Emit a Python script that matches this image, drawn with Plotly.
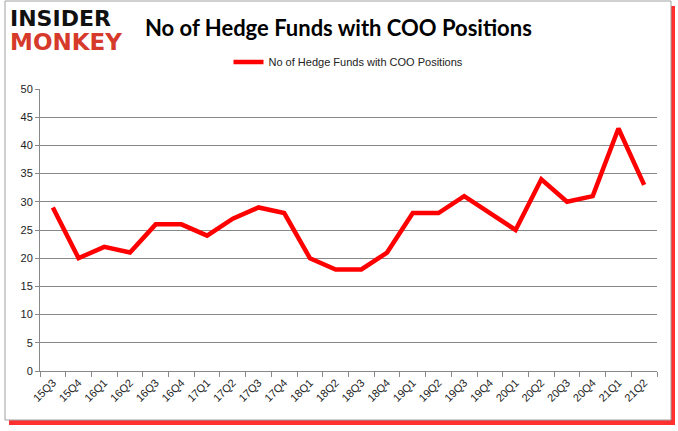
import plotly.graph_objects as go

quarters = ["15Q3","15Q4","16Q1","16Q2","16Q3","16Q4","17Q1","17Q2","17Q3","17Q4",
            "18Q1","18Q2","18Q3","18Q4","19Q1","19Q2","19Q3","19Q4","20Q1","20Q2",
            "20Q3","20Q4","21Q1","21Q2"]
funds = [29,20,22,21,26,26,24,27,29,28,20,18,18,21,28,28,31,28,25,34,30,31,43,33]
y_ticks = [0,5,10,15,20,25,30,35,40,45,50]

W, H = 678, 431
L, R, T, B = 40, 21, 89, 60
pw, ph = W - L - R, H - T - B

def px(x):
    return (x - L) / pw

def py(y):
    return (H - B - y) / ph

fig = go.Figure()
fig.add_trace(go.Scatter(
    x=quarters, y=funds, mode="lines",
    name="No of Hedge Funds with COO Positions",
    line=dict(color="#ff0000", width=4.5),
))

shapes = [
    # red shadow
    dict(type="rect", xref="paper", yref="paper",
         x0=px(9), x1=px(675), y0=py(425), y1=py(6),
         fillcolor="#ff3030", line=dict(width=0), layer="below"),
    # white frame
    dict(type="rect", xref="paper", yref="paper",
         x0=px(5), x1=px(671), y0=py(420), y1=py(1),
         fillcolor="white", line=dict(color="#a0a0a0", width=1), layer="below"),
]

fig.update_layout(
    width=W, height=H,
    margin=dict(l=L, r=R, t=T, b=B, autoexpand=False),
    paper_bgcolor="white", plot_bgcolor="white",
    showlegend=True,
    legend=dict(orientation="h", x=0.5, xanchor="center", y=py(62), yanchor="middle",
                font=dict(family="Liberation Sans, Arial", size=11, color="#222"),
                bgcolor="rgba(0,0,0,0)"),
    shapes=shapes,
    xaxis=dict(
        type="category", range=[-0.5, len(quarters) - 0.5],
        tickson="boundaries", ticks="outside", ticklen=5, tickcolor="#888",
        showline=True, linecolor="#888", linewidth=1, showgrid=False,
        tickangle=-45, automargin=False,
        tickfont=dict(family="Liberation Sans, Arial", size=11, color="#222"),
    ),
    yaxis=dict(
        range=[0, 50], tickvals=y_ticks, automargin=False,
        ticks="outside", ticklen=4, tickcolor="#888",
        showline=True, linecolor="#888", linewidth=1,
        showgrid=True, gridcolor="#888", gridwidth=1, zeroline=False,
        tickfont=dict(family="Liberation Sans, Arial", size=11, color="#222"),
    ),
    annotations=[
        dict(text="<b>No of Hedge Funds with COO Positions</b>", xref="paper", yref="paper",
             x=px(338), y=py(27), xanchor="center", yanchor="middle", showarrow=False,
             font=dict(family="Lato, Open Sans", size=22, color="#000")),
        dict(text="<b>INSIDER</b>", xref="paper", yref="paper",
             x=px(8), y=py(18), xanchor="left", yanchor="middle", showarrow=False,
             font=dict(family="DejaVu Sans", size=22, color="#111")),
        dict(text="<b>MONKEY</b>", xref="paper", yref="paper",
             x=px(8), y=py(42), xanchor="left", yanchor="middle", showarrow=False,
             font=dict(family="DejaVu Sans", size=23, color="#d63a2a")),
    ],
)

fig.write_html("out.html", config={"displayModeBar": False},
               post_script="document.body.style.margin='0';document.body.style.overflow='hidden';")
